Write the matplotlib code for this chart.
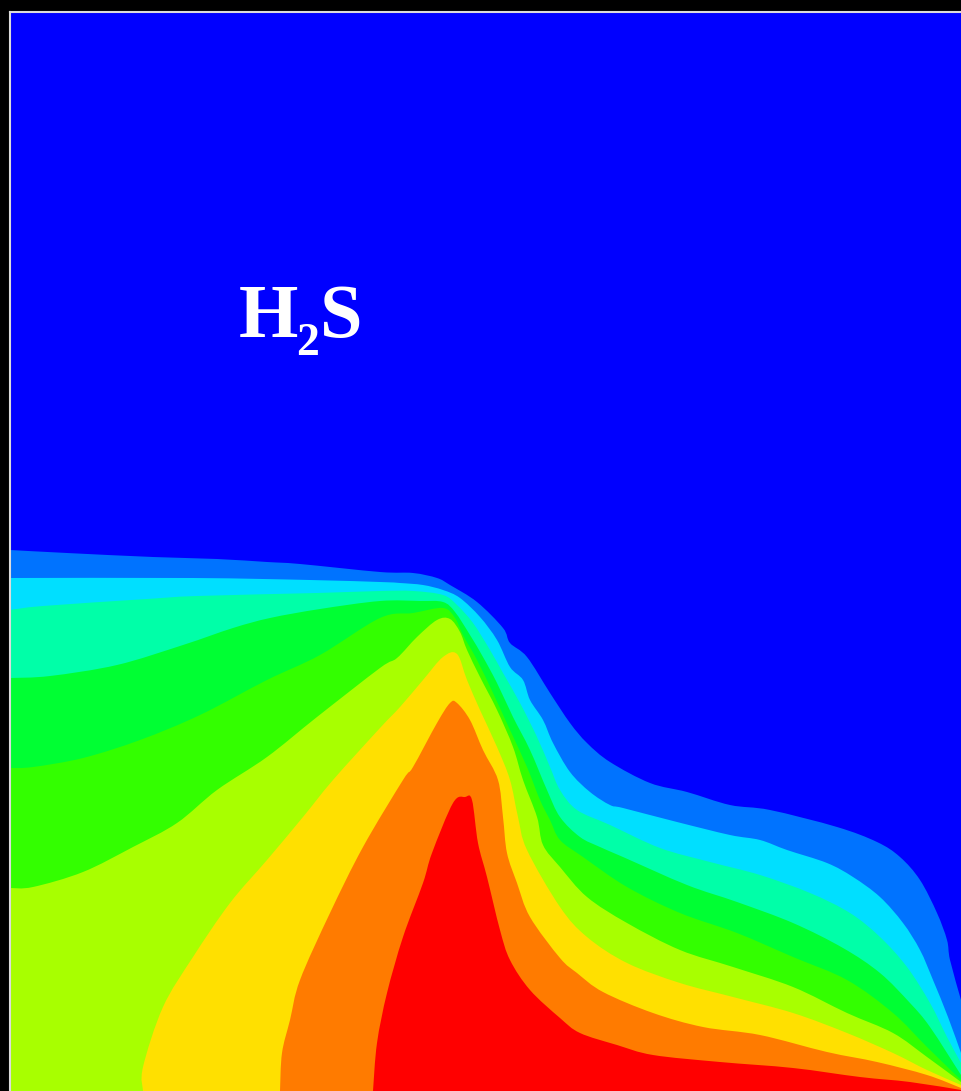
import matplotlib
matplotlib.use('Agg')
import matplotlib.pyplot as plt
from matplotlib.path import Path
from matplotlib.patches import PathPatch

# contour band outlines, lowest band first
x1 = [10, 67, 153, 217, 267, 300, 380, 413, 437, 450, 477, 503, 510, 527, 550, 570, 587, 610, 650, 687, 730, 770, 837, 877, 900, 920, 937, 947, 950, 961]
y1 = [550, 553, 557, 559, 562, 564, 572, 573, 578, 585, 602, 628, 643, 657, 693, 723, 743, 762, 783, 792, 805, 810, 827, 842, 857, 880, 913, 940, 960, 1000]

x2 = [10, 193, 310, 380, 400, 423, 443, 460, 480, 497, 510, 523, 530, 543, 553, 570, 590, 610, 623, 677, 730, 760, 787, 827, 853, 880, 903, 920, 933, 948, 961]
y2 = [578, 578, 580, 582, 583, 585, 590, 598, 617, 640, 667, 680, 700, 720, 743, 772, 792, 805, 808, 822, 835, 840, 850, 863, 877, 897, 923, 950, 980, 1017, 1053]

x3 = [10, 43, 147, 197, 317, 380, 413, 443, 457, 473, 490, 503, 520, 537, 550, 560, 577, 610, 660, 710, 760, 810, 850, 880, 907, 930, 947, 961]
y3 = [610, 606, 599, 596, 593, 591, 591, 595, 605, 623, 650, 673, 703, 737, 767, 790, 810, 825, 848, 862, 875, 893, 913, 937, 967, 1003, 1037, 1063]

x4 = [10, 50, 117, 183, 233, 270, 320, 380, 420, 443, 455, 470, 483, 497, 513, 530, 547, 560, 580, 600, 623, 687, 737, 793, 843, 880, 910, 930, 961]
y4 = [678, 676, 665, 645, 628, 618, 609, 601, 601, 602, 612, 635, 657, 683, 717, 750, 790, 817, 837, 847, 857, 885, 902, 923, 948, 973, 1003, 1027, 1075]

x5 = [10, 33, 83, 140, 200, 267, 320, 380, 413, 443, 455, 463, 477, 493, 510, 527, 540, 550, 560, 583, 627, 680, 737, 793, 847, 893, 927, 961]
y5 = [768, 767, 758, 740, 715, 680, 655, 618, 613, 608, 618, 635, 660, 693, 730, 767, 800, 820, 840, 857, 887, 913, 933, 957, 980, 1013, 1047, 1080]

x6 = [10, 33, 83, 133, 177, 217, 267, 317, 380, 397, 417, 437, 450, 460, 467, 480, 497, 513, 523, 537, 543, 560, 587, 627, 680, 733, 793, 847, 893, 927, 961]
y6 = [888, 887, 872, 847, 823, 790, 757, 717, 668, 658, 637, 620, 619, 632, 650, 677, 710, 747, 780, 817, 845, 867, 897, 923, 950, 967, 987, 1013, 1033, 1057, 1082]

x7 = [143, 143, 163, 193, 230, 267, 303, 333, 380, 400, 423, 443, 457, 467, 480, 497, 510, 518, 527, 560, 587, 627, 680, 733, 793, 847, 893, 927, 961]
y7 = [1091, 1067, 1007, 957, 903, 860, 817, 780, 728, 707, 680, 657, 654, 680, 710, 747, 780, 817, 850, 907, 937, 963, 983, 997, 1013, 1033, 1053, 1070, 1085]

x8 = [280, 282, 290, 300, 330, 363, 403, 413, 437, 450, 457, 470, 483, 498, 503, 507, 517, 530, 560, 577, 603, 653, 703, 760, 827, 877, 927, 961]
y8 = [1091, 1053, 1020, 980, 913, 847, 780, 767, 723, 703, 703, 720, 750, 780, 817, 853, 883, 917, 958, 973, 992, 1013, 1027, 1035, 1052, 1062, 1075, 1088]

x9 = [373, 377, 387, 403, 423, 432, 453, 465, 472, 478, 487, 500, 510, 530, 560, 580, 617, 653, 720, 793, 860, 910, 961]
y9 = [1091, 1043, 993, 937, 883, 853, 803, 797, 800, 843, 877, 930, 960, 990, 1018, 1033, 1045, 1055, 1062, 1068, 1077, 1082, 1090]

bands_x = [x1, x2, x3, x4, x5, x6, x7, x8, x9]
bands_y = [y1, y2, y3, y4, y5, y6, y7, y8, y9]
band_colors = ['#0073ff', '#00dfff', '#00ffa8', '#00ff33', '#33ff00',
               '#a8ff00', '#ffe000', '#ff7b00', '#ff0000']


def band_path(xs, ys):
    # bezier through the outline points (catmull-rom), then close along the bottom
    pts = list(zip(xs, ys))
    verts = [pts[0]]
    codes = [Path.MOVETO]
    for i in range(len(pts) - 1):
        p0 = pts[max(i - 1, 0)]
        p1 = pts[i]
        p2 = pts[i + 1]
        p3 = pts[min(i + 2, len(pts) - 1)]
        c1 = (p1[0] + (p2[0] - p0[0])/6, p1[1] + (p2[1] - p0[1])/6)
        c2 = (p2[0] - (p3[0] - p1[0])/6, p2[1] - (p3[1] - p1[1])/6)
        verts += [c1, c2, p2]
        codes += [Path.CURVE4]*3
    verts += [(961, 1091), (xs[0], 1091), pts[0]]
    codes += [Path.LINETO, Path.LINETO, Path.CLOSEPOLY]
    return Path(verts, codes)


fig = plt.figure(figsize=(9.61, 10.91), dpi=100, facecolor='black')
ax = fig.add_axes([10/961, 0, 951/961, 1079/1091], facecolor='#0000ff')
ax.set_xlim(10, 961)
ax.set_ylim(1091, 12)

for xs, ys, c in zip(bands_x, bands_y, band_colors):
    ax.add_patch(PathPatch(band_path(xs, ys), facecolor=c, edgecolor='none', lw=0))

ax.set_xticks([])
ax.set_yticks([])
for side in ['right', 'bottom']:
    ax.spines[side].set_visible(False)
for side in ['left', 'top']:
    ax.spines[side].set_color('#dcdcdc')
    ax.spines[side].set_linewidth(1.5)

label = dict(color='white', family='Liberation Serif', weight='bold', va='baseline', ha='left')
ax.text(239, 337, 'H', fontsize=55, **label)
ax.text(296, 355, '2', fontsize=33, **label)
ax.text(320, 337, 'S', fontsize=55, **label)

fig.savefig('out.png', dpi=100, facecolor='black')
